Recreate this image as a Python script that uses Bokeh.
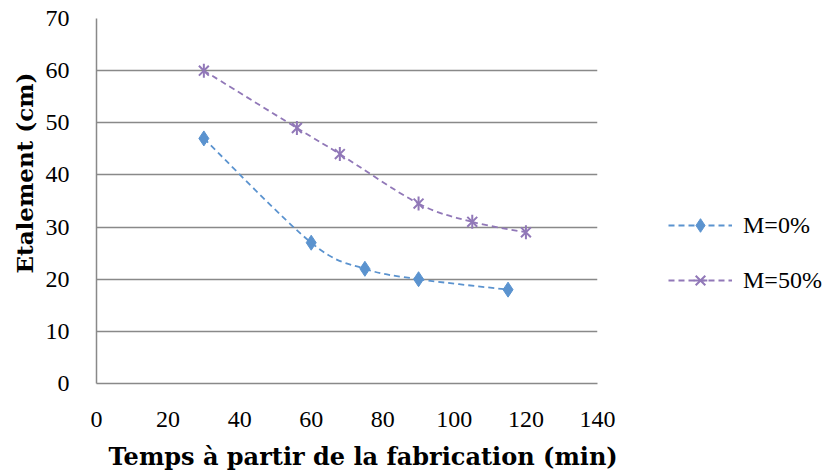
import math
from bokeh.plotting import figure
from bokeh.models import Legend, LegendItem, ColumnDataSource, FixedTicker, Range1d, Title
from bokeh.embed import file_html
from bokeh.resources import INLINE

# Data
x_m0 = [30, 60, 75, 90, 115]
y_m0 = [47, 27, 22, 20, 18]
x_m50 = [30, 56, 68, 90, 105, 120]
y_m50 = [60, 49, 44, 34.5, 31, 29]
labels = ["M=0%", "M=50%"]
colors = ["#5B93CF", "#9178B8"]
x_ticks = [0, 20, 40, 60, 80, 100, 120, 140]
y_ticks = [0, 10, 20, 30, 40, 50, 60, 70]
x_title = "Temps à partir de la fabrication (min)"
y_title = "Etalement (cm)"

FONT = "Liberation Serif"
BFONT = "DejaVu Serif"

p = figure(frame_width=501, frame_height=365, output_backend="svg",
           toolbar_location=None,
           x_range=Range1d(0, 140), y_range=Range1d(0, 70),
           min_border_left=96, min_border_top=18, min_border_bottom=92,
           min_border_right=226)
p.outline_line_color = None
p.background_fill_color = "white"

for ax in (p.xaxis[0], p.yaxis[0]):
    ax.axis_line_color = "#898989"
    ax.axis_line_width = 1.5
    ax.major_tick_line_color = None
    ax.minor_tick_line_color = None
    ax.major_label_text_font = FONT
    ax.major_label_text_font_size = "24px"
    ax.major_label_text_color = "black"

p.xaxis.ticker = FixedTicker(ticks=x_ticks)
p.yaxis.ticker = FixedTicker(ticks=y_ticks)
p.xaxis.major_label_standoff = 22
p.yaxis.major_label_standoff = 21

p.add_layout(Title(text=x_title, align="left", offset=12, standoff=20,
                   text_font=BFONT, text_font_style="bold",
                   text_font_size="24px", text_color="black"), "below")
p.add_layout(Title(text=y_title, align="left", offset=110, standoff=10,
                   text_font=BFONT, text_font_style="bold",
                   text_font_size="23px", text_color="black"), "left")

p.xgrid.grid_line_color = None
p.ygrid.grid_line_color = "#898989"
p.ygrid.grid_line_width = 1.6


def bezier_src(xs, ys):
    n = len(xs)
    d = dict(x0=[], y0=[], x1=[], y1=[], cx0=[], cy0=[], cx1=[], cy1=[])
    for i in range(n - 1):
        xp, yp = (xs[i - 1], ys[i - 1]) if i > 0 else (xs[i], ys[i])
        xn, yn = (xs[i + 2], ys[i + 2]) if i + 2 < n else (xs[i + 1], ys[i + 1])
        d["x0"].append(xs[i]); d["y0"].append(ys[i])
        d["x1"].append(xs[i + 1]); d["y1"].append(ys[i + 1])
        d["cx0"].append(xs[i] + (xs[i + 1] - xp) / 6)
        d["cy0"].append(ys[i] + (ys[i + 1] - yp) / 6)
        d["cx1"].append(xs[i + 1] - (xn - xs[i]) / 6)
        d["cy1"].append(ys[i + 1] - (yn - ys[i]) / 6)
    return ColumnDataSource(d)


items = []
for xs, ys, col, lab, kind in [(x_m0, y_m0, colors[0], labels[0], "d"),
                               (x_m50, y_m50, colors[1], labels[1], "s")]:
    bz = p.bezier(x0="x0", y0="y0", x1="x1", y1="y1", cx0="cx0", cy0="cy0",
                  cx1="cx1", cy1="cy1", source=bezier_src(xs, ys),
                  line_color=col, line_width=1.8, line_dash="6 4")
    rs = [bz]
    if kind == "d":
        rs.append(p.scatter(xs, ys, marker="diamond", size=15, fill_color=col,
                            line_color=col, line_width=1))
    else:
        rs.append(p.scatter(xs, ys, marker="x", size=14, line_color=col,
                            line_width=2))
        rs.append(p.scatter(xs, ys, marker="dash", size=14, angle=math.pi / 2,
                            line_color=col, line_width=2))
    items.append(LegendItem(label=lab, renderers=rs))

legend = Legend(items=items, location=(71, 86), orientation="vertical",
                label_text_font=FONT, label_text_font_size="24px",
                label_text_color="black", glyph_width=64, glyph_height=34,
                label_height=34, spacing=21, padding=0, margin=0,
                label_standoff=11, border_line_color=None,
                background_fill_alpha=0)
p.add_layout(legend, "right")

open("out.html", "w").write(file_html(p, INLINE))
